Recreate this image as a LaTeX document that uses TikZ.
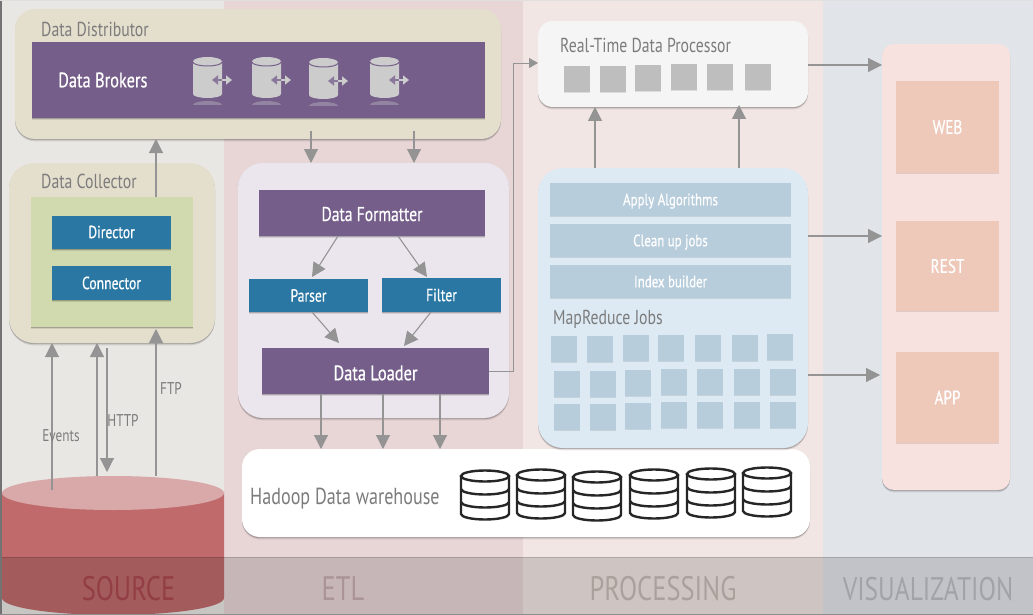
\documentclass[tikz,border=0pt]{standalone}
\usepackage{fontspec}
\setmainfont[FakeStretch=0.78]{PT Sans}
\newfontfamily\wfont[FakeStretch=0.78,FakeBold=0.5]{PT Sans}
\usetikzlibrary{arrows.meta,shadows,calc}
\definecolor{bandA}{HTML}{E8E7E3}
\definecolor{bandB}{HTML}{E8D5D6}
\definecolor{bandC}{HTML}{F1E6E3}
\definecolor{bandD}{HTML}{E1E4E9}
\definecolor{sand}{HTML}{E4DECD}
\definecolor{purp}{HTML}{755E8A}
\definecolor{teal}{HTML}{2A77A3}
\definecolor{lgreen}{HTML}{D0DAAE}
\definecolor{lilac}{HTML}{EBE6EE}
\definecolor{lblue}{HTML}{DDEAF3}
\definecolor{mblue}{HTML}{B8CDDC}
\definecolor{sq}{HTML}{BEBEBE}
\definecolor{rose}{HTML}{F8E2E0}
\definecolor{peach}{HTML}{EEC8B8}
\definecolor{txtg}{HTML}{7C7C7C}
\definecolor{arrg}{HTML}{949494}
\definecolor{icong}{HTML}{CCCCCC}
\definecolor{cylbody}{HTML}{C06A6C}
\definecolor{cyltop}{HTML}{D9A9A9}
\tikzset{
  x=1pt,y=-1pt,
  shad/.style={drop shadow={shadow xshift=0pt,shadow yshift=-2.4pt,opacity=.1,fill=black},drop shadow={shadow xshift=0pt,shadow yshift=-1.2pt,opacity=.2,fill=black}},
  softshad/.style={drop shadow={shadow xshift=0pt,shadow yshift=-1pt,opacity=.1,fill=black}},
  panel/.style={rectangle,rounded corners=#1,shad,inner sep=0pt,outer sep=0pt},
  plain/.style={rectangle,inner sep=0pt,outer sep=0pt},
  solidbox/.style={plain,shad,text=white,text height=12.2pt,text depth=0pt,font=\wfont\fontsize{17.5}{17.5}\selectfont},
  bigbox/.style={plain,shad,text=white,text depth=0pt},
  softbox/.style={plain,softshad,text=white,text height=11.5pt,text depth=0pt,font=\wfont\fontsize{16.5}{16.5}\selectfont},
  visbox/.style={plain,softshad,text=white,text height=13.7pt,text depth=0pt,font=\wfont\fontsize{19.5}{19.5}\selectfont,fill=peach,minimum width=103pt},
  tilebox/.style={plain,softshad,minimum width=26pt,minimum height=26pt},
  lab/.style={inner sep=0pt,text=txtg,font=\fontsize{20.2}{20.2}\selectfont},
  small/.style={inner sep=0pt,text=txtg,font=\fontsize{17}{17}\selectfont},
  band/.style={inner sep=0pt,font=\fontsize{34}{34}\selectfont},
  arr/.style={draw=arrg,line width=1.1pt,-{Triangle[width=14pt,length=14pt,fill=arrg]}},
}
\newcommand{\brokercyl}[2]{%
  \begin{scope}[shift={(#1,#2)}]
    \fill[icong] (0,4.5) -- (0,37) arc[x radius=14.5,y radius=4,start angle=180,end angle=0] -- (29,4.5) -- cycle;
    \fill[icong] (14.5,4.5) ellipse[x radius=14.5,y radius=4.5];
    \draw[purp,line width=1pt] (0,5) arc[x radius=14.5,y radius=4,start angle=180,end angle=0];
    \fill[icong,opacity=.35] (0,48) arc[x radius=14.5,y radius=4,start angle=180,end angle=360] -- cycle;
    \draw[purp!75!icong,line width=2pt,-{Triangle[width=9pt,length=6pt]}] (29,23) -- (19,23);
    \draw[icong,line width=2pt,-{Triangle[width=9pt,length=6pt]}] (29,23) -- (39,23);
  \end{scope}}
\newcommand{\dbicon}[2]{%
  \begin{scope}[shift={(#1,#2)},draw=black!85,line width=2.4pt,line cap=round]
    \draw (25,6) ellipse[x radius=24,y radius=5.5];
    \draw (1,6) -- (1,44) arc[x radius=24,y radius=5.5,start angle=180,end angle=0] -- (49,6);
    \draw (1,19) arc[x radius=24,y radius=5.5,start angle=180,end angle=0];
    \draw (1,32) arc[x radius=24,y radius=5.5,start angle=180,end angle=0];
  \end{scope}}
\begin{document}
\begin{tikzpicture}
\useasboundingbox (0,0) rectangle (1033,615);
% bands
\fill[bandA] (0,0) rectangle (224,615);
\fill[bandB] (224,0) rectangle (523,615);
\fill[bandC] (523,0) rectangle (823,615);
\fill[bandD] (823,0) rectangle (1033,615);
% source cylinder
\fill[cylbody] (2,493) -- (2,598) arc[x radius=111,y radius=17,start angle=180,end angle=0] -- (224,493) -- cycle;
\fill[cyltop] (113,493) ellipse[x radius=111,y radius=17];
\node[plain,minimum width=222pt,minimum height=139pt] (source) at (113,545.5) {};
% distributor
\node[panel=20pt,fill=sand,minimum width=486pt,minimum height=130pt] (distributor) at (258,74) {};
\node[lab,anchor=west] (distlabel) at (41,29) {Data Distributor};
\node[plain,shad,fill=purp,minimum width=453pt,minimum height=76pt] (brokers) at (258.5,80) {};
\node[anchor=west,inner sep=0pt,text=white,font=\wfont\fontsize{21}{21}\selectfont] (brokerlabel) at (58,80) {Data Brokers};
\brokercyl{193}{57}\brokercyl{252}{57}\brokercyl{309}{58}\brokercyl{370}{57}
% collector
\node[panel=25pt,fill=sand,minimum width=206pt,minimum height=180pt] (collector) at (112,253) {};
\node[lab,anchor=west] (colllabel) at (41,181) {Data Collector};
\node[plain,shad,fill=lgreen,minimum width=162pt,minimum height=130pt] (greenbox) at (112,262) {};
\node[solidbox,fill=teal,minimum width=119pt,minimum height=33pt] (director) at (111.5,232) {Director};
\node[solidbox,fill=teal,minimum width=119pt,minimum height=34pt] (connector) at (111.5,283) {Connector};
% etl
\node[panel=25pt,fill=lilac,minimum width=271pt,minimum height=255pt] (etl) at (373.5,290.5) {};
\node[bigbox,text height=16pt,fill=purp,minimum width=226pt,minimum height=46pt,font=\wfont\fontsize{20}{20}\selectfont] (formatter) at (372,213) {Data Formatter};
\node[solidbox,fill=teal,minimum width=119pt,minimum height=33pt] (parser) at (308.5,295.5) {Parser};
\node[solidbox,fill=teal,minimum width=119pt,minimum height=34pt] (filter) at (441.5,295) {Filter};
\node[bigbox,text height=18.5pt,fill=purp,minimum width=227pt,minimum height=46pt,font=\wfont\fontsize{21}{21}\selectfont] (loader) at (375.5,371) {Data Loader};
% hadoop
\node[panel=18pt,fill=white,minimum width=568pt,minimum height=88pt] (hadoop) at (526,493) {};
\node[anchor=west,inner sep=0pt,text=txtg,font=\fontsize{23.2}{23.2}\selectfont] (hadooplabel) at (250,499) {Hadoop Data warehouse};
\dbicon{460}{470}\dbicon{516}{469}\dbicon{572}{471}\dbicon{629}{469}\dbicon{686}{468}\dbicon{742}{467}
% real-time
\node[panel=15pt,fill=black!4,minimum width=270pt,minimum height=86pt] (realtime) at (673,64) {};
\node[lab,anchor=west] (rtlabel) at (560,45) {Real-Time Data Processor};
\foreach \n/\a/\b in {1/577/79,2/613/79,3/648/78,4/684/77,5/720/77,6/758/77}
  \node[tilebox,fill=sq] (rt\n) at (\a,\b) {};
% mapreduce
\node[panel=25pt,fill=lblue,minimum width=270pt,minimum height=280pt] (mapreduce) at (673,308) {};
\node[softbox,fill=mblue,minimum width=241pt,minimum height=33pt] (algo) at (670.5,199.5) {Apply Algorithms};
\node[softbox,fill=mblue,minimum width=241pt,minimum height=33pt] (cleanup) at (670.5,240.5) {Clean up jobs};
\node[softbox,fill=mblue,minimum width=241pt,minimum height=33pt] (index) at (670.5,281.5) {Index builder};
\node[lab,anchor=west] (mrlabel) at (553,319.5) {MapReduce Jobs};
\foreach \n/\a/\b in {1/564/349,2/600/349,3/636/348,4/671/348,5/708/348,6/745/348,7/780/347}
  \node[tilebox,fill=mblue] (ma\n) at (\a,\b) {};
\foreach \n/\a/\b in {1/567/384,2/603/384,3/638/383,4/674/382,5/710/382,6/747/382,7/783/382}
  \node[tilebox,fill=mblue] (mb\n) at (\a,\b) {};
\foreach \n/\a/\b in {1/567/417,2/603/417,3/638/416,4/674/415,5/710/415,6/747/415,7/783/415}
  \node[tilebox,fill=mblue] (mc\n) at (\a,\b) {};
% visualization
\node[panel=12pt,fill=rose,minimum width=128pt,minimum height=446pt] (vis) at (946,267) {};
\node[visbox,minimum height=92pt] (web) at (947.5,127) {WEB};
\node[visbox,minimum height=90pt] (rest) at (947.5,266) {REST};
\node[visbox,minimum height=91pt] (app) at (947.5,397.5) {APP};
% connectors
\coordinate (evstart) at (52,490);
\draw[arr] (evstart) -- (52,0 |- collector.south);
\draw[arr] (97,0 |- source.north) -- (97,0 |- collector.south);
\coordinate (httpstart) at (107,348);
\coordinate (httpend) at (107,472);
\draw[arr] (httpstart) -- (httpend);
\coordinate (ftpend) at (156,329);
\draw[arr] (156,0 |- source.north) -- (ftpend);
\draw[arr] (156,0 |- greenbox.north) -- (156,0 |- distributor.south);
\coordinate (da) at (311,131);
\coordinate (db) at (414,131);
\draw[arr] (da) -- (311,0 |- etl.north);
\draw[arr] (db) -- (414,0 |- etl.north);
\coordinate (pe) at (312,277);
\coordinate (fe) at (427,277);
\coordinate (la) at (339,343);
\coordinate (lb) at (404,346);
\draw[arr] (338,0 |- formatter.south) -- (pe);
\draw[arr] (398,0 |- formatter.south) -- (fe);
\draw[arr] (312,0 |- parser.south) -- (la);
\draw[arr] (431,0 |- filter.south) -- (lb);
\coordinate (bend) at (513,63);
\draw[arr,line width=.8pt,-{Triangle[width=10pt,length=9pt,fill=arrg]}] (loader.east) -- (513,0 |- loader.east) -- (bend) -- (realtime.west |- 0,63);
\draw[arr] (321,0 |- loader.south) -- (321,0 |- hadoop.north);
\draw[arr] (383,0 |- loader.south) -- (383,0 |- hadoop.north);
\draw[arr] (440,0 |- loader.south) -- (440,0 |- hadoop.north);
\draw[arr] (595,0 |- mapreduce.north) -- (595,0 |- realtime.south);
\coordinate (rtb) at (739,105);
\draw[arr] (739,0 |- mapreduce.north) -- (rtb);
\draw[arr] (realtime.east |- 0,65) -- (vis.west |- 0,65);
\draw[arr] (mapreduce.east |- 0,236) -- (vis.west |- 0,236);
\coordinate (append) at (880,375);
\draw[arr] (mapreduce.east |- 0,375) -- (append);
% connector labels
\node[small,anchor=center] (events) at (61,436) {Events};
\node[small,anchor=center] (http) at (123,420) {HTTP};
\node[small,anchor=center] (ftp) at (171,388) {FTP};
% bottom strip
\fill[black,opacity=.14] (0,557) rectangle (1033,615);
\draw[black,opacity=.15,line width=.8pt] (0,557) -- (1033,557);
\node[band,text={rgb,255:red,146;green,62;blue,68}] (bsource) at (128.5,589) {SOURCE};
\node[band,text={rgb,255:red,170;green,148;blue,150}] (betl) at (343,589) {ETL};
\node[band,text={rgb,255:red,172;green,160;blue,157}] (bproc) at (663,589) {PROCESSING};
\node[band,text={rgb,255:red,160;green,163;blue,168},font=\fontsize{32.7}{32.7}\selectfont] (bvis) at (928,589) {VISUALIZATION};
% frame
\fill[black!55] (0,0) rectangle (2,615);
\fill[black!45] (0,613.8) rectangle (1033,615);
\fill[black!12] (0,0) rectangle (1033,1);
\end{tikzpicture}
\end{document}
